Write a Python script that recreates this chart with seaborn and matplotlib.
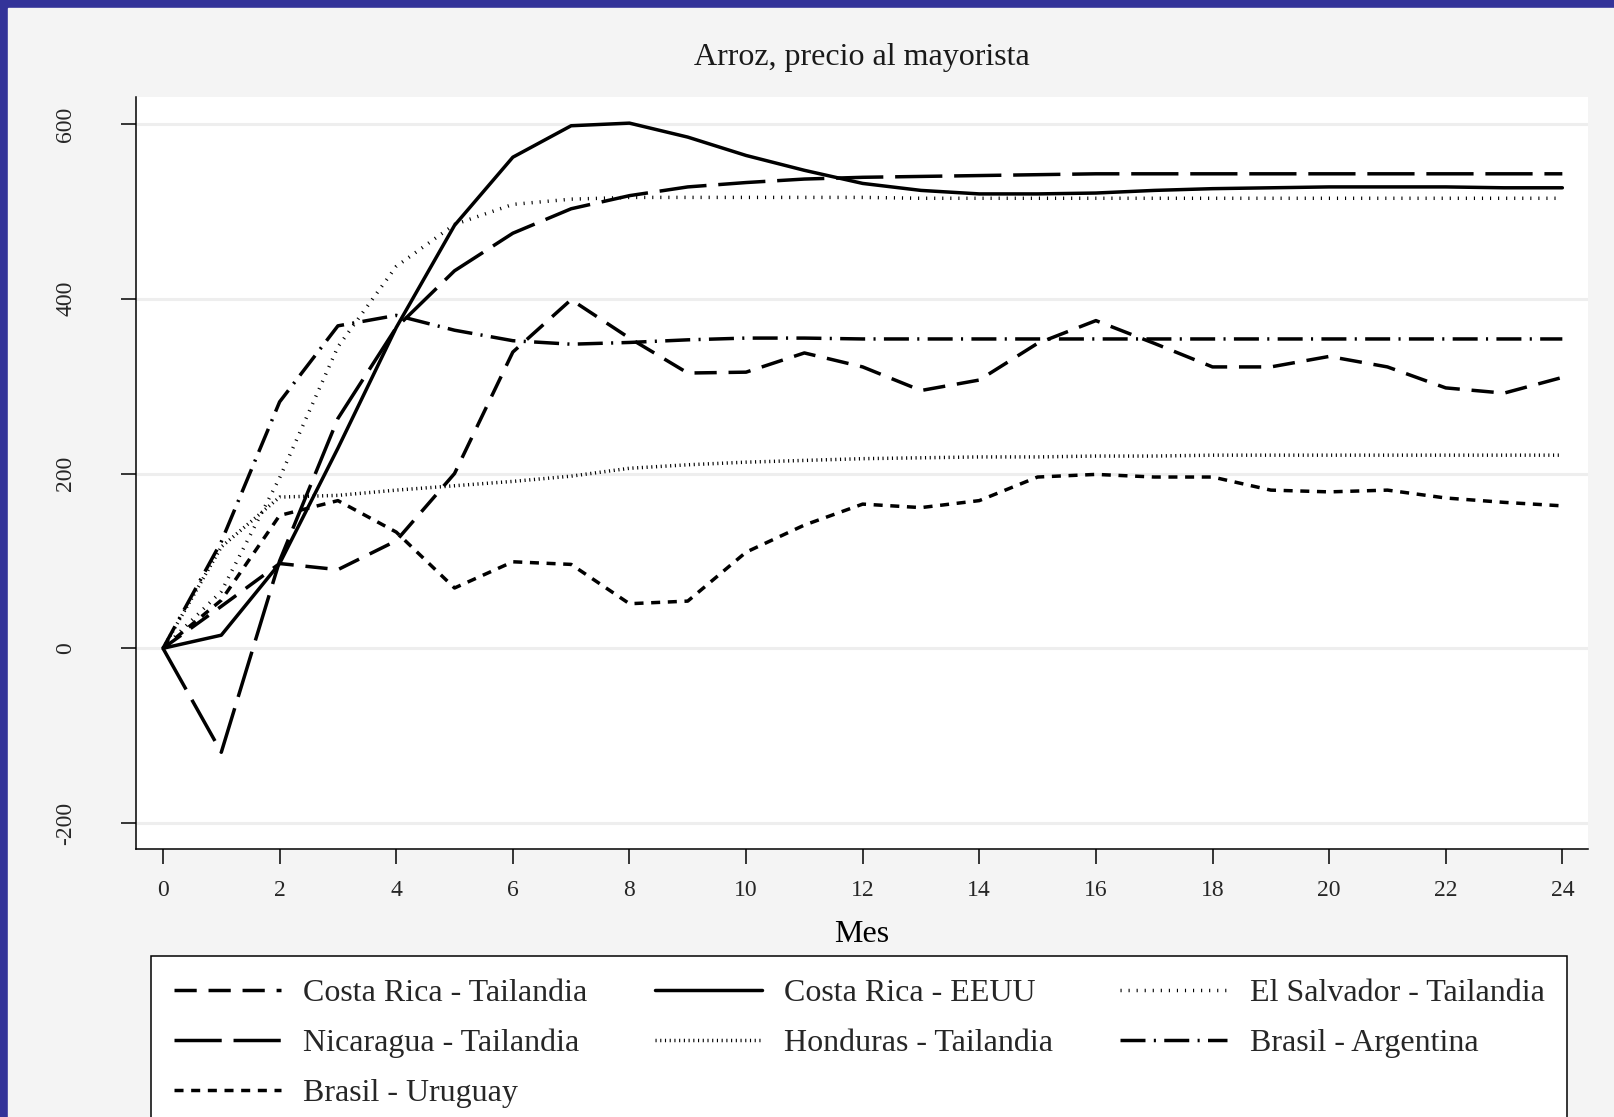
# Import all needed libraries
import matplotlib
matplotlib.use("Agg")
import matplotlib.pyplot as plt
from matplotlib.patches import Rectangle
import seaborn as sns

# Data (impulse responses, 0-24 months)
meses = list(range(25))
costa_rica_tailandia = [0, 48, 97, 90, 123, 200, 339, 399, 355, 315, 316, 338, 322, 295, 307, 349, 375, 349, 322, 322, 334, 322, 298, 292, 310]
costa_rica_eeuu = [0, 15, 97, 229, 367, 484, 562, 598, 601, 585, 564, 547, 532, 524, 520, 520, 521, 524, 526, 527, 528, 528, 528, 527, 527]
el_salvador_tailandia = [0, 65, 195, 345, 437, 485, 508, 514, 516, 516, 516, 516, 516, 515, 515, 515, 515, 515, 515, 515, 515, 515, 515, 515, 515]
nicaragua_tailandia = [0, -119, 100, 263, 367, 432, 475, 503, 518, 528, 533, 537, 539, 540, 541, 542, 543, 543, 543, 543, 543, 543, 543, 543, 543]
honduras_tailandia = [0, 116, 173, 175, 181, 186, 191, 197, 206, 210, 213, 215, 217, 218, 219, 219, 220, 220, 221, 221, 221, 221, 221, 221, 221]
brasil_argentina = [0, 122, 282, 369, 381, 364, 352, 348, 350, 353, 355, 355, 354, 354, 354, 354, 354, 354, 354, 354, 354, 354, 354, 354, 354]
brasil_uruguay = [0, 55, 152, 169, 133, 69, 99, 96, 51, 54, 110, 141, 165, 161, 169, 196, 199, 196, 196, 181, 179, 181, 172, 167, 163]

y_ticks = [-200, 0, 200, 400, 600]
x_ticks = list(range(0, 25, 2))

# Series in plotting order with their line styles (dash lengths in points)
series = [
    ("Costa Rica - Tailandia", costa_rica_tailandia, (0, (16, 8.5))),
    ("Nicaragua - Tailandia", nicaragua_tailandia, (0, (34, 8.5))),
    ("Brasil - Uruguay", brasil_uruguay, (0, (6.5, 5.5))),
    ("Costa Rica - EEUU", costa_rica_eeuu, "-"),
    ("Honduras - Tailandia", honduras_tailandia, (0, (0.8, 2.6))),
    ("El Salvador - Tailandia", el_salvador_tailandia, (0, (0.8, 5))),
    ("Brasil - Argentina", brasil_argentina, (0, (18, 6, 1.5, 6))),
]

sns.set_theme(style = "white")
plt.rcParams["font.family"] = ["Liberation Serif", "DejaVu Serif"]
plt.rcParams["lines.scale_dashes"] = False
plt.rcParams["axes.unicode_minus"] = False

W, H = 1615, 1117
fig = plt.figure(figsize = (W / 100, H / 100), dpi = 100, facecolor = "#333399")
fig.patches.append(Rectangle((8 / W, 0), 1, 1 - 8 / H, transform = fig.transFigure, color = "#f4f4f4", zorder = -10))

ax = fig.add_axes([136 / W, 1 - 849 / H, (1588 - 136) / W, (849 - 97) / H])
ax.set_facecolor("white")

for name, vals, ls in series:
    sns.lineplot(x = meses, y = vals, ax = ax, color = "black", linewidth = 2.5, linestyle = ls, label = name)

ax.get_legend().remove()

# Axes, ticks and grid
ax.set_xlim(-0.463, 24.44)
ax.set_ylim(-229.7, 630.9)
ax.set_xticks(x_ticks)
ax.set_xticklabels([str(t) for t in x_ticks], fontsize = 17)
ax.set_yticks(y_ticks)
ax.set_yticklabels([str(t) for t in y_ticks], fontsize = 17, rotation = 90, va = "center")
ax.tick_params(axis = "both", direction = "out", length = 11, width = 1.1, color = "black", left = True, bottom = True)
ax.tick_params(axis = "y", pad = 32)
ax.tick_params(axis = "x", pad = 11.5)
ax.yaxis.grid(True, color = "#eeeeee", linewidth = 2.2)
ax.xaxis.grid(False)
ax.set_axisbelow(True)
for side in ["top", "right"]:
    ax.spines[side].set_visible(False)
for side in ["left", "bottom"]:
    ax.spines[side].set_color("black")
    ax.spines[side].set_linewidth(1.1)
ax.set_xlabel("")
ax.set_ylabel("")

# Title and x label
fig.text(862 / W, 1 - 57 / H, "Arroz, precio al mayorista", ha = "center", va = "center", fontsize = 23, color = "#1a1a1a")
fig.text(862 / W, 1 - 934 / H, "Mes", ha = "center", va = "center", fontsize = 23, color = "black")

# Legend (bottom of box runs off the figure like the reference)
handles, labels = ax.get_legend_handles_labels()
leg = fig.legend(handles, labels, ncol = 3, loc = "upper left", bbox_to_anchor = (151 / W, 1 - 956 / H), fontsize = 23,
                 frameon = True, fancybox = False, framealpha = 1, edgecolor = "black", facecolor = "white",
                 borderpad = 0.72, labelspacing = 0.64, handlelength = 3.35, handletextpad = 0.7, columnspacing = 2.1,
                 borderaxespad = 0)
leg.get_frame().set_linewidth(1.1)

fig.savefig("out.png", dpi = 100, facecolor = fig.get_facecolor())
